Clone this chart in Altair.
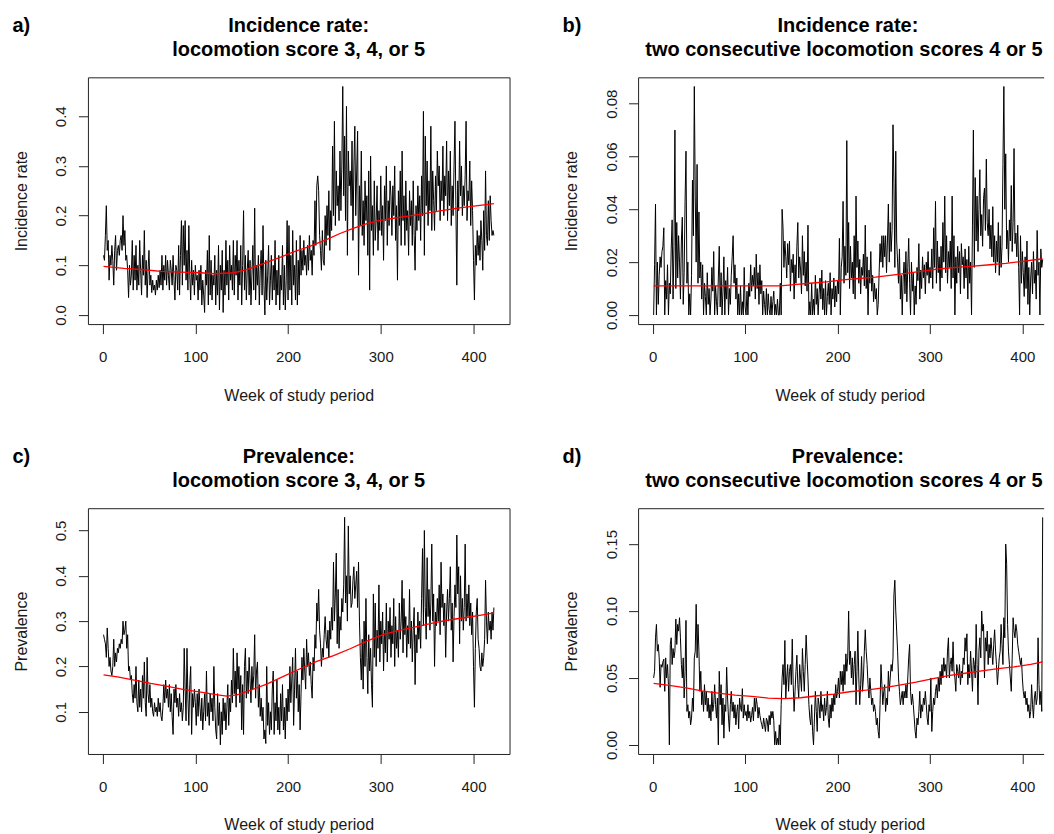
import altair as alt
import pandas as pd

FONT = "Liberation Sans"

weeks = list(range(1, 423))

# a) Incidence rate: locomotion score 3, 4, or 5
inc_345 = [
    0.12, 0.11, 0.16, 0.22, 0.13, 0.15, 0.07, 0.12, 0.10, 0.14,
    0.11, 0.06, 0.13, 0.16, 0.09, 0.13, 0.14, 0.12, 0.15, 0.16,
    0.13, 0.20, 0.14, 0.17, 0.11, 0.12, 0.09, 0.035, 0.10, 0.06,
    0.08, 0.15, 0.05, 0.12, 0.07, 0.14, 0.05, 0.10, 0.06, 0.15,
    0.09, 0.04, 0.12, 0.08, 0.17, 0.06, 0.11, 0.035, 0.09, 0.13,
    0.06, 0.08, 0.045, 0.07, 0.05, 0.06, 0.04, 0.07, 0.05, 0.08,
    0.055, 0.09, 0.06, 0.12, 0.05, 0.10, 0.07, 0.12, 0.06, 0.11,
    0.08, 0.05, 0.11, 0.09, 0.06, 0.12, 0.07, 0.03, 0.10, 0.09,
    0.05, 0.14, 0.04, 0.12, 0.19, 0.06, 0.18, 0.10, 0.19, 0.07,
    0.13, 0.05, 0.18, 0.08, 0.03, 0.11, 0.06, 0.09, 0.04, 0.10,
    0.07, 0.08, 0.03, 0.09, 0.05, 0.10, 0.02, 0.07, 0.04, 0.005,
    0.09, 0.06, 0.13, 0.02, 0.16, 0.04, 0.11, 0.03, 0.08, 0.06,
    0.12, 0.02, 0.09, 0.04, 0.14, 0.01, 0.10, 0.05, 0.13, 0.005,
    0.09, 0.04, 0.15, 0.06, 0.11, 0.03, 0.14, 0.07, 0.10, 0.05,
    0.15, 0.04, 0.12, 0.08, 0.15, 0.03, 0.11, 0.06, 0.14, 0.02,
    0.10, 0.21, 0.05, 0.12, 0.03, 0.09, 0.13, 0.04, 0.11, 0.02,
    0.08, 0.14, 0.05, 0.215, 0.03, 0.10, 0.06, 0.12, 0.02, 0.09,
    0.13, 0.04, 0.18, 0.06, 0.0, 0.11, 0.03, 0.08, 0.14, 0.02,
    0.07, 0.12, 0.03, 0.10, 0.05, 0.15, 0.02, 0.09, 0.04, 0.12,
    0.01, 0.08, 0.05, 0.14, 0.02, 0.10, 0.01, 0.07, 0.19, 0.03,
    0.18, 0.05, 0.12, 0.02, 0.17, 0.06, 0.10, 0.03, 0.15, 0.02,
    0.11, 0.04, 0.16, 0.08, 0.13, 0.09, 0.15, 0.10, 0.12, 0.08,
    0.14, 0.09, 0.16, 0.11, 0.13, 0.08, 0.15, 0.12, 0.23, 0.14,
    0.26, 0.28, 0.25, 0.16, 0.13, 0.09, 0.17, 0.11, 0.10, 0.20,
    0.14, 0.22, 0.16, 0.25, 0.13, 0.21, 0.17, 0.34, 0.20, 0.39,
    0.18, 0.29, 0.22, 0.26, 0.19, 0.33, 0.21, 0.30, 0.46, 0.24,
    0.36, 0.19, 0.42, 0.12, 0.33, 0.26, 0.29, 0.22, 0.35, 0.15,
    0.30, 0.38, 0.20, 0.29, 0.37, 0.08, 0.26, 0.18, 0.33, 0.16,
    0.23, 0.14, 0.27, 0.19, 0.24, 0.12, 0.29, 0.05, 0.32, 0.17,
    0.22, 0.12, 0.27, 0.15, 0.19, 0.26, 0.13, 0.21, 0.17, 0.28,
    0.16, 0.22, 0.11, 0.26, 0.19, 0.30, 0.14, 0.23, 0.18, 0.27,
    0.24, 0.16, 0.26, 0.20, 0.30, 0.15, 0.22, 0.07, 0.25, 0.18,
    0.29, 0.14, 0.33, 0.19, 0.24, 0.14, 0.27, 0.17, 0.21, 0.12,
    0.25, 0.18, 0.23, 0.14, 0.27, 0.16, 0.09, 0.22, 0.17, 0.26,
    0.19, 0.24, 0.15, 0.28, 0.20, 0.41, 0.12, 0.36, 0.22, 0.31,
    0.18, 0.27, 0.21, 0.38, 0.17, 0.29, 0.23, 0.17, 0.28, 0.21,
    0.33, 0.26, 0.30, 0.19, 0.27, 0.23, 0.34, 0.20, 0.28, 0.24,
    0.35, 0.19, 0.29, 0.22, 0.33, 0.18, 0.26, 0.20, 0.30, 0.39,
    0.22, 0.06, 0.27, 0.21, 0.35, 0.24, 0.30, 0.20, 0.26, 0.22,
    0.28, 0.39, 0.19, 0.25, 0.23, 0.31, 0.18, 0.27, 0.21, 0.11,
    0.03, 0.14, 0.10, 0.17, 0.12, 0.16, 0.11, 0.19, 0.15, 0.09,
    0.21, 0.13, 0.29, 0.16, 0.14, 0.23, 0.15, 0.24, 0.19, 0.16,
    0.17, 0.16,
]
smooth_a_weeks = [1, 23, 45, 63, 84, 106, 120, 142, 156, 174, 192, 206, 224, 242,
                  256, 271, 285, 299, 321, 342, 364, 385, 407, 422]
smooth_a = [0.098, 0.0936, 0.091, 0.0876, 0.0863, 0.085, 0.083, 0.085, 0.0916, 0.1037,
            0.1164, 0.127, 0.1385, 0.152, 0.164, 0.1746, 0.184, 0.1906, 0.1967, 0.2027,
            0.2094, 0.2154, 0.2207, 0.224]

# b) Incidence rate: two consecutive locomotion scores 4 or 5
inc_45 = [
    0.0, 0.019, 0.042, 0.0, 0.02, 0.004, 0.015, 0.022, 0.018, 0.024,
    0.026, 0.033, 0.0, 0.013, 0.006, 0.019, 0.0, 0.012, 0.008, 0.025,
    0.036, 0.006, 0.026, 0.07, 0.01, 0.035, 0.014, 0.03, 0.02, 0.006,
    0.028, 0.037, 0.004, 0.016, 0.043, 0.062, 0.012, 0.02, 0.0, 0.008,
    0.0, 0.015, 0.051, 0.03, 0.0865, 0.045, 0.02, 0.057, 0.012, 0.039,
    0.014, 0.02, 0.006, 0.019, 0.0, 0.012, 0.007, 0.0, 0.016, 0.004,
    0.01, 0.0, 0.006, 0.018, 0.009, 0.024, 0.0, 0.011, 0.005, 0.0,
    0.014, 0.026, 0.003, 0.016, 0.0, 0.009, 0.022, 0.0, 0.013, 0.006,
    0.018, 0.0, 0.01, 0.004, 0.015, 0.022, 0.03, 0.012, 0.019, 0.006,
    0.014, 0.0, 0.008, 0.0, 0.011, 0.0, 0.005, 0.0, 0.018, 0.003,
    0.0, 0.009, 0.0, 0.012, 0.007, 0.019, 0.009, 0.015, 0.011, 0.018,
    0.006, 0.023, 0.01, 0.016, 0.004, 0.019, 0.008, 0.013, 0.0, 0.009,
    0.004, 0.0, 0.01, 0.0, 0.008, 0.002, 0.0, 0.007, 0.0, 0.005,
    0.009, 0.0, 0.004, 0.0, 0.006, 0.0, 0.0, 0.012, 0.0, 0.04,
    0.033, 0.018, 0.028, 0.022, 0.014, 0.027, 0.019, 0.028, 0.009, 0.021,
    0.016, 0.023, 0.006, 0.019, 0.012, 0.026, 0.035, 0.014, 0.022, 0.017,
    0.008, 0.03, 0.015, 0.024, 0.011, 0.02, 0.009, 0.034, 0.0, 0.005,
    0.0, 0.012, 0.0, 0.006, 0.0, 0.015, 0.004, 0.01, 0.0, 0.008,
    0.014, 0.006, 0.017, 0.002, 0.01, 0.0, 0.013, 0.0, 0.007, 0.012,
    0.004, 0.016, 0.0, 0.01, 0.006, 0.014, 0.003, 0.011, 0.005, 0.013,
    0.008, 0.029, 0.0, 0.018, 0.022, 0.043, 0.012, 0.026, 0.015, 0.066,
    0.016, 0.035, 0.01, 0.026, 0.014, 0.02, 0.008, 0.03, 0.006, 0.045,
    0.018, 0.028, 0.012, 0.021, 0.008, 0.018, 0.015, 0.023, 0.011, 0.034,
    0.01, 0.022, 0.0, 0.017, 0.012, 0.024, 0.009, 0.015, 0.005, 0.012,
    0.006, 0.01, 0.0, 0.004, 0.016, 0.027, 0.02, 0.03, 0.018, 0.03,
    0.022, 0.03, 0.016, 0.028, 0.042, 0.02, 0.035, 0.024, 0.032, 0.072,
    0.05, 0.018, 0.062, 0.028, 0.02, 0.012, 0.025, 0.006, 0.015, 0.0,
    0.014, 0.02, 0.008, 0.024, 0.005, 0.018, 0.029, 0.012, 0.0, 0.02,
    0.009, 0.016, 0.0, 0.011, 0.004, 0.018, 0.013, 0.027, 0.006, 0.017,
    0.01, 0.022, 0.014, 0.019, 0.008, 0.02, 0.015, 0.024, 0.012, 0.018,
    0.014, 0.025, 0.01, 0.033, 0.018, 0.043, 0.012, 0.028, 0.016, 0.022,
    0.009, 0.026, 0.014, 0.035, 0.02, 0.045, 0.016, 0.03, 0.012, 0.024,
    0.018, 0.028, 0.01, 0.045, 0.014, 0.03, 0.0, 0.022, 0.012, 0.026,
    0.016, 0.024, 0.008, 0.027, 0.019, 0.022, 0.01, 0.025, 0.014, 0.021,
    0.006, 0.026, 0.012, 0.02, 0.0, 0.034, 0.07, 0.018, 0.052, 0.028,
    0.045, 0.024, 0.04, 0.055, 0.03, 0.038, 0.026, 0.044, 0.048, 0.032,
    0.059, 0.035, 0.03, 0.04, 0.025, 0.034, 0.022, 0.041, 0.02, 0.03,
    0.016, 0.028, 0.02, 0.035, 0.015, 0.03, 0.018, 0.026, 0.057, 0.0865,
    0.04, 0.061, 0.025, 0.032, 0.02, 0.036, 0.028, 0.049, 0.024, 0.035,
    0.063, 0.027, 0.031, 0.022, 0.034, 0.018, 0.0, 0.03, 0.012, 0.024,
    0.016, 0.007, 0.022, 0.01, 0.028, 0.004, 0.018, 0.0, 0.014, 0.02,
    0.008, 0.024, 0.012, 0.017, 0.006, 0.032, 0.015, 0.02, 0.0, 0.025,
    0.018, 0.021,
]
smooth_b_weeks = [1, 47, 100, 138, 153, 170, 188, 206, 223, 241, 259, 276, 294, 312,
                  329, 347, 365, 382, 400, 416, 422]
smooth_b = [0.011, 0.011, 0.011, 0.011, 0.0115, 0.012, 0.0125, 0.0133, 0.0138, 0.0143,
            0.0151, 0.0158, 0.0167, 0.0175, 0.018, 0.0185, 0.019, 0.0195, 0.0203, 0.021,
            0.0212]

# c) Prevalence: locomotion score 3, 4, or 5
prev_345 = [
    0.27, 0.26, 0.25, 0.22, 0.285, 0.24, 0.20, 0.22, 0.19, 0.18,
    0.20, 0.26, 0.20, 0.23, 0.21, 0.24, 0.23, 0.25, 0.24, 0.26,
    0.25, 0.30, 0.27, 0.28, 0.30, 0.24, 0.27, 0.19, 0.20, 0.17,
    0.18, 0.14, 0.12, 0.16, 0.13, 0.20, 0.12, 0.10, 0.17, 0.11,
    0.15, 0.10, 0.18, 0.13, 0.21, 0.12, 0.09, 0.22, 0.14, 0.12,
    0.16, 0.11, 0.13, 0.10, 0.09, 0.12, 0.10, 0.11, 0.09, 0.13,
    0.10, 0.12, 0.09, 0.08, 0.11, 0.16, 0.12, 0.17, 0.13, 0.15,
    0.11, 0.16, 0.10, 0.14, 0.09, 0.05, 0.15, 0.12, 0.16, 0.11,
    0.13, 0.09, 0.14, 0.10, 0.12, 0.08, 0.11, 0.24, 0.15, 0.08,
    0.24, 0.13, 0.07, 0.16, 0.20, 0.05, 0.14, 0.11, 0.15, 0.12,
    0.07, 0.14, 0.09, 0.15, 0.11, 0.08, 0.13, 0.06, 0.10, 0.14,
    0.08, 0.19, 0.09, 0.12, 0.07, 0.14, 0.10, 0.13, 0.08, 0.20,
    0.11, 0.06, 0.04, 0.14, 0.07, 0.12, 0.027, 0.10, 0.05, 0.13,
    0.08, 0.12, 0.06, 0.11, 0.16, 0.07, 0.13, 0.10, 0.17, 0.12,
    0.24, 0.14, 0.19, 0.11, 0.23, 0.15, 0.20, 0.12, 0.18, 0.06,
    0.16, 0.05, 0.20, 0.24, 0.13, 0.19, 0.14, 0.22, 0.17, 0.12,
    0.20, 0.15, 0.18, 0.27, 0.13, 0.19, 0.21, 0.11, 0.16, 0.09,
    0.13, 0.08, 0.11, 0.04, 0.06, 0.03, 0.20, 0.07, 0.12, 0.05,
    0.10, 0.06, 0.15, 0.19, 0.05, 0.12, 0.08, 0.17, 0.06, 0.11,
    0.05, 0.14, 0.08, 0.16, 0.06, 0.11, 0.04, 0.13, 0.08, 0.15,
    0.10, 0.20, 0.12, 0.17, 0.22, 0.07, 0.15, 0.24, 0.13, 0.19,
    0.10, 0.16, 0.06, 0.14, 0.22, 0.17, 0.24, 0.19, 0.15, 0.26,
    0.20, 0.23, 0.18, 0.21, 0.16, 0.13, 0.22, 0.19, 0.27, 0.24,
    0.34, 0.30, 0.37, 0.28, 0.25, 0.20, 0.24, 0.22, 0.27, 0.31,
    0.26, 0.24, 0.28, 0.22, 0.30, 0.26, 0.33, 0.28, 0.43, 0.30,
    0.36, 0.45, 0.25, 0.37, 0.24, 0.31, 0.28, 0.35, 0.32, 0.38,
    0.529, 0.34, 0.40, 0.30, 0.51, 0.36, 0.40, 0.33, 0.34, 0.39,
    0.42, 0.35, 0.38, 0.41, 0.33, 0.43, 0.30, 0.22, 0.17, 0.26,
    0.15, 0.30, 0.20, 0.35, 0.22, 0.14, 0.27, 0.19, 0.24, 0.16,
    0.11, 0.36, 0.22, 0.34, 0.20, 0.28, 0.24, 0.38, 0.21, 0.30,
    0.25, 0.32, 0.19, 0.28, 0.23, 0.34, 0.21, 0.30, 0.26, 0.33,
    0.22, 0.29, 0.25, 0.35, 0.20, 0.31, 0.24, 0.28, 0.22, 0.34,
    0.26, 0.30, 0.39, 0.23, 0.35, 0.27, 0.31, 0.22, 0.29, 0.25,
    0.37, 0.24, 0.30, 0.21, 0.28, 0.33, 0.16, 0.27, 0.23, 0.32,
    0.26, 0.30, 0.24, 0.35, 0.46, 0.29, 0.50, 0.33, 0.26, 0.44,
    0.31, 0.37, 0.28, 0.34, 0.47, 0.30, 0.36, 0.20, 0.32, 0.29,
    0.35, 0.30, 0.38, 0.27, 0.43, 0.33, 0.36, 0.29, 0.34, 0.22,
    0.32, 0.37, 0.30, 0.35, 0.42, 0.28, 0.34, 0.21, 0.31, 0.38,
    0.33, 0.49, 0.36, 0.42, 0.25, 0.40, 0.30, 0.35, 0.28, 0.33,
    0.47, 0.30, 0.36, 0.31, 0.38, 0.29, 0.34, 0.27, 0.32, 0.20,
    0.11, 0.24, 0.32, 0.35, 0.26, 0.24, 0.20, 0.19, 0.23, 0.20,
    0.22, 0.26, 0.39, 0.30, 0.25, 0.32, 0.28, 0.30, 0.26, 0.32,
    0.28, 0.33,
]
smooth_c_weeks = [1, 16, 34, 52, 70, 88, 106, 124, 134, 145, 160, 177, 195, 213, 231,
                  249, 267, 285, 303, 321, 339, 357, 375, 392, 410, 422]
smooth_c = [0.1816, 0.177, 0.170, 0.1625, 0.156, 0.149, 0.1434, 0.1375, 0.1346, 0.1375,
            0.148, 0.161, 0.178, 0.195, 0.211, 0.224, 0.239, 0.256, 0.2706, 0.280,
            0.288, 0.2963, 0.303, 0.308, 0.314, 0.3184]

# d) Prevalence: two consecutive locomotion scores 4 or 5
prev_45 = [
    0.05, 0.055, 0.08, 0.09, 0.07, 0.075, 0.065, 0.043, 0.06, 0.058,
    0.062, 0.064, 0.04, 0.065, 0.05, 0.06, 0.045, 0.0, 0.075, 0.08,
    0.06, 0.072, 0.065, 0.07, 0.094, 0.075, 0.09, 0.085, 0.095, 0.08,
    0.06, 0.05, 0.065, 0.035, 0.055, 0.093, 0.025, 0.03, 0.02, 0.025,
    0.015, 0.02, 0.035, 0.025, 0.065, 0.07, 0.105, 0.065, 0.09, 0.07,
    0.04, 0.055, 0.03, 0.04, 0.025, 0.045, 0.03, 0.04, 0.025, 0.035,
    0.02, 0.03, 0.018, 0.04, 0.025, 0.03, 0.045, 0.03, 0.02, 0.035,
    0.0, 0.055, 0.03, 0.045, 0.015, 0.035, 0.005, 0.03, 0.025, 0.058,
    0.035, 0.02, 0.01, 0.03, 0.04, 0.025, 0.032, 0.02, 0.03, 0.015,
    0.025, 0.03, 0.012, 0.035, 0.028, 0.025, 0.042, 0.02, 0.03, 0.022,
    0.025, 0.018, 0.03, 0.02, 0.025, 0.017, 0.022, 0.028, 0.018, 0.035,
    0.025, 0.035, 0.03, 0.02, 0.028, 0.022, 0.018, 0.015, 0.012, 0.02,
    0.015, 0.01, 0.02, 0.018, 0.01, 0.022, 0.015, 0.025, 0.02, 0.025,
    0.018, 0.0, 0.01, 0.0, 0.005, 0.0, 0.015, 0.0, 0.03, 0.05,
    0.06, 0.045, 0.078, 0.035, 0.05, 0.06, 0.04, 0.055, 0.06, 0.045,
    0.079, 0.045, 0.025, 0.04, 0.055, 0.067, 0.045, 0.035, 0.06, 0.05,
    0.04, 0.072, 0.055, 0.04, 0.06, 0.082, 0.065, 0.05, 0.03, 0.02,
    0.015, 0.03, 0.01, 0.0, 0.02, 0.04, 0.025, 0.01, 0.035, 0.03,
    0.02, 0.04, 0.025, 0.03, 0.018, 0.035, 0.022, 0.028, 0.04, 0.02,
    0.013, 0.03, 0.02, 0.035, 0.025, 0.038, 0.03, 0.045, 0.035, 0.04,
    0.05, 0.035, 0.055, 0.045, 0.055, 0.04, 0.06, 0.045, 0.068, 0.055,
    0.065, 0.10, 0.06, 0.07, 0.05, 0.065, 0.045, 0.06, 0.07, 0.03,
    0.055, 0.085, 0.05, 0.03, 0.045, 0.066, 0.04, 0.05, 0.07, 0.086,
    0.07, 0.06, 0.045, 0.035, 0.05, 0.04, 0.03, 0.035, 0.025, 0.03,
    0.025, 0.015, 0.02, 0.01, 0.005, 0.03, 0.06, 0.045, 0.03, 0.04,
    0.045, 0.025, 0.035, 0.03, 0.055, 0.04, 0.05, 0.06, 0.055, 0.065,
    0.112, 0.123, 0.10, 0.085, 0.07, 0.05, 0.04, 0.03, 0.035, 0.04,
    0.03, 0.04, 0.035, 0.045, 0.035, 0.05, 0.065, 0.075, 0.04, 0.03,
    0.038, 0.03, 0.02, 0.01, 0.005, 0.02, 0.015, 0.025, 0.04, 0.02,
    0.03, 0.025, 0.035, 0.03, 0.04, 0.03, 0.02, 0.015, 0.03, 0.025,
    0.05, 0.01, 0.025, 0.035, 0.03, 0.04, 0.045, 0.035, 0.05, 0.04,
    0.055, 0.045, 0.06, 0.05, 0.065, 0.055, 0.06, 0.05, 0.07, 0.08,
    0.05, 0.06, 0.065, 0.055, 0.077, 0.055, 0.05, 0.04, 0.06, 0.055,
    0.05, 0.06, 0.045, 0.055, 0.05, 0.065, 0.06, 0.08, 0.07, 0.083,
    0.045, 0.06, 0.05, 0.07, 0.055, 0.04, 0.065, 0.06, 0.05, 0.09,
    0.06, 0.03, 0.07, 0.08, 0.065, 0.10, 0.085, 0.09, 0.05, 0.08,
    0.07, 0.085, 0.06, 0.075, 0.065, 0.08, 0.07, 0.06, 0.075, 0.086,
    0.07, 0.06, 0.045, 0.055, 0.065, 0.07, 0.09, 0.075, 0.06, 0.095,
    0.08, 0.15, 0.135, 0.09, 0.07, 0.06, 0.05, 0.04, 0.065, 0.095,
    0.085, 0.08, 0.09, 0.085, 0.075, 0.07, 0.065, 0.06, 0.065, 0.05,
    0.04, 0.035, 0.04, 0.03, 0.035, 0.025, 0.03, 0.02, 0.025, 0.045,
    0.03, 0.02, 0.035, 0.04, 0.03, 0.035, 0.08, 0.045, 0.03, 0.04,
    0.025, 0.17,
]
smooth_d_weeks = [1, 18, 36, 53, 71, 89, 107, 125, 142, 160, 178, 196, 213, 231, 249,
                  267, 285, 302, 320, 338, 356, 374, 391, 409, 422]
smooth_d = [0.0459, 0.0444, 0.0426, 0.0404, 0.0387, 0.0372, 0.0362, 0.035, 0.0345,
            0.0352, 0.0367, 0.0379, 0.0397, 0.0409, 0.0426, 0.0446, 0.0468, 0.0493,
            0.0518, 0.0535, 0.0553, 0.057, 0.0583, 0.0602, 0.062]

x_ticks = [0, 100, 200, 300, 400]

for s in (inc_345, inc_45, prev_345, prev_45):
    assert len(s) == len(weeks), len(s)

BOX = "#222222"
TXT = "#1a1a1a"


def r_range(vals):
    lo, hi = min(vals), max(vals)
    pad = 0.04 * (hi - lo)
    return [lo - pad, hi + pad]


def panel(values, sm_w, sm_v, ytitle, yticks, yfmt, line1, line2, tag, w, h,
          cx1, cx2, clipped=False, x_hi=None, anchor=False):
    df = pd.DataFrame({"week": weeks, "value": values})
    sm = pd.DataFrame({"week": sm_w, "value": sm_v})
    xdom = r_range(weeks)
    if x_hi is not None:
        xdom = [xdom[0], x_hi]
    xs = alt.Scale(domain=xdom, nice=False, zero=False)
    ys = alt.Scale(domain=r_range(values), nice=False, zero=False)
    xaxis = alt.Axis(values=x_ticks, format="d", grid=False, domain=clipped,
                     domainColor=BOX, domainWidth=1,
                     tickSize=9.5, tickColor=BOX, tickWidth=1,
                     labelAngle=0, labelBaseline="alphabetic", labelAlign="center",
                     labelPadding=28, labelFont=FONT, labelFontSize=15,
                     labelColor=TXT, labelFlush=False, labelOverlap=False,
                     titleFont=FONT, titleFontSize=16, titleFontWeight="normal",
                     titleColor=TXT, titleX=(212 if clipped else w / 2), titleY=76,
                     titleAlign="center", titleBaseline="alphabetic")
    yaxis = alt.Axis(values=yticks, format=yfmt, grid=False, domain=clipped,
                     domainColor=BOX, domainWidth=1,
                     tickSize=9.5, tickColor=BOX, tickWidth=1,
                     labelAngle=270, labelAlign="center", labelBaseline="alphabetic",
                     labelPadding=12.5, labelFont=FONT, labelFontSize=15,
                     labelColor=TXT, labelFlush=False, labelOverlap=False,
                     titleFont=FONT, titleFontSize=16, titleFontWeight="normal",
                     titleColor=TXT, titleAngle=270, titleX=-61.3,
                     titleY=h / 2, titleAlign="center", titleBaseline="alphabetic")
    black = alt.Chart(df).mark_line(color="black", strokeWidth=1).encode(
        x=alt.X("week:Q", scale=xs, axis=xaxis, title="Week of study period"),
        y=alt.Y("value:Q", scale=ys, axis=yaxis, title=ytitle),
    )
    if clipped:
        top_axis = alt.Axis(orient="top", labels=False, ticks=False, domain=True,
                            domainColor=BOX, domainWidth=1, grid=False, title="")
        red = alt.Chart(sm).mark_line(color="#ff0000", strokeWidth=1.3).encode(
            x=alt.X("week:Q", axis=top_axis),
            y=alt.Y("value:Q", title=ytitle),
        )
    else:
        red = alt.Chart(sm).mark_line(color="#ff0000", strokeWidth=1.3).encode(
            x=alt.X("week:Q", title="Week of study period"),
            y=alt.Y("value:Q", title=ytitle),
        )
    one = alt.Chart(pd.DataFrame({"k": [0]}))
    tag_t = one.mark_text(text=tag, font=FONT, fontSize=20, fontWeight="bold",
                          align="left", baseline="alphabetic", color="black").encode(
        x=alt.value(-75.6), y=alt.value(-45.3))
    t1 = one.mark_text(text=line1, font=FONT, fontSize=20, fontWeight="bold",
                       align="center", baseline="alphabetic", color="black").encode(
        x=alt.value(cx1), y=alt.value(-45.3))
    t2 = one.mark_text(text=line2, font=FONT, fontSize=20, fontWeight="bold",
                       align="center", baseline="alphabetic", color="black").encode(
        x=alt.value(cx2), y=alt.value(-21.6))
    layers = [black, red, tag_t, t1, t2]
    if anchor:
        layers.append(one.mark_rule(strokeWidth=0, opacity=0).encode(
            x=alt.value(-79.3), x2=alt.value(-79.3),
            y=alt.value(-68), y2=alt.value(-68)))
    lay = alt.layer(*layers).properties(width=w, height=h)
    if clipped:
        lay = lay.resolve_axis(x="independent").properties(
            view=alt.ViewBackground(stroke="transparent"))
    return lay


pa = panel(inc_345, smooth_a_weeks, smooth_a, "Incidence rate",
           [0, 0.1, 0.2, 0.3, 0.4], ".1f", "Incidence rate:",
           "locomotion score 3, 4, or 5", "a)", 422, 247, 211, 211, anchor=True)
pb = panel(inc_45, smooth_b_weeks, smooth_b, "Incidence rate",
           [0, 0.02, 0.04, 0.06, 0.08], ".2f", "Incidence rate:",
           "two consecutive locomotion scores 4 or 5", "b)", 406, 247, 210, 206,
           clipped=True, x_hi=423.1)
pc = panel(prev_345, smooth_c_weeks, smooth_c, "Prevalence",
           [0.1, 0.2, 0.3, 0.4, 0.5], ".1f", "Prevalence:",
           "locomotion score 3, 4, or 5", "c)", 422, 246, 211, 211)
pd_ = panel(prev_45, smooth_d_weeks, smooth_d, "Prevalence",
            [0, 0.05, 0.10, 0.15], ".2f", "Prevalence:",
            "two consecutive locomotion scores 4 or 5", "d)", 406, 246, 210, 206,
            clipped=True, x_hi=423.1)

chart = alt.concat(
    pa, pb, pc, pd_, columns=2,
    spacing={"row": 184.3, "column": 128.7},
    bounds="flush",
).properties(
    padding=0,
).configure(
    font=FONT,
).configure_view(
    stroke=BOX, strokeWidth=1,
)

chart.save("out.html", embed_options={"renderer": "svg", "actions": False})
